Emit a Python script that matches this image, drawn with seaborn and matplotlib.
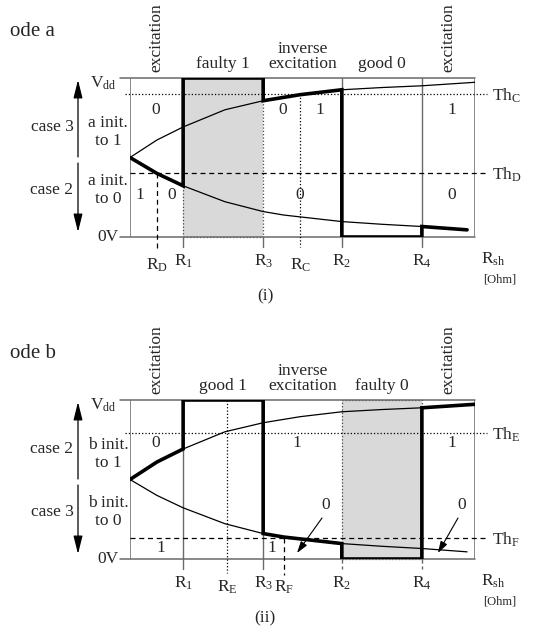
import numpy as np
import pandas as pd
import matplotlib.pyplot as plt
from matplotlib.patches import Rectangle
import seaborn as sns

# shunt resistance positions (arbitrary units, plotted range 0..100)
R_NAMES = ["1", "3", "2", "4"]
R_VALUES = [15.4, 38.6, 61.4, 84.6]
R_END = 100.0

# node voltage (fraction of Vdd) vs R_sh, node initialised to 1 / to 0
UP_X = [0, 7.8, 15.4, 27.5, 38.6, 49.3, 61.4, 73.0, 84.6, 100.0]
UP_V = [0.50, 0.61, 0.692, 0.80, 0.857, 0.895, 0.926, 0.94, 0.951, 0.973]
LO_X = [0, 7.8, 15.4, 27.5, 38.6, 44.6, 61.4, 73.0, 84.6, 97.7]
LO_V = [0.50, 0.40, 0.322, 0.222, 0.16, 0.138, 0.097, 0.08, 0.066, 0.045]

# thresholds and the resistances where the curves cross them
TH_C, TH_D = 0.90, 0.40
R_C, R_D = 49.3, 7.8
TH_E, TH_F = 0.79, 0.132
R_E, R_F = 28.1, 44.6

A_REGIONS = ["excitation", "faulty 1", "inverse\nexcitation", "good 0", "excitation"]
B_REGIONS = ["excitation", "good 1", "inverse\nexcitation", "faulty 0", "excitation"]

A_DIGITS = ["0", "1", "0", "0", "1", "0", "1", "0"]
B_DIGITS = ["0", "1", "1", "1", "1"]

W, H = 538, 639
BOX_L, BOX_R, BOX_T, BOX_H = 130, 475, 78, 159
PX_R = (BOX_R - BOX_L) / R_END
GRAY = "#6a6a6a"


def P(px, py):
    # panel-(i) pixel position -> data coords (same for both panels)
    return ((px - BOX_L) / PX_R, (BOX_T + BOX_H - py) / BOX_H)


def along(xs, vs, x0, x1):
    return [(x, v) for x, v in zip(xs, vs) if x0 <= x <= x1]


def sub(base, s):
    return r"$\mathrm{%s}_{\mathrm{%s}}$" % (base, s)


r1, r3, r2, r4 = R_VALUES
thick_a = (along(LO_X, LO_V, 0, r1) + [(r1, 1), (r3, 1)] + along(UP_X, UP_V, r3, r2)
           + [(r2, 0), (r4, 0)] + along(LO_X, LO_V, r4, R_END))
thick_b = (along(UP_X, UP_V, 0, r1) + [(r1, 1), (r3, 1)] + along(LO_X, LO_V, r3, r2)
           + [(r2, 0), (r4, 0)] + along(UP_X, UP_V, r4, R_END))

panels = [
    dict(top=78, name="ode a", tag="(i)", init="a", cases=("case 3", "case 2"),
         regions=A_REGIONS, shade=(r1, r3), thick=thick_a,
         th=[(TH_C, "C", ":"), (TH_D, "D", "--")],
         marks=[(R_C, "C", ":", TH_C, -0.065), (R_D, "D", "--", TH_D, -0.07)],
         digits=list(zip([(156, 110), (140, 195), (172, 195), (283, 110), (320, 110),
                          (300, 195), (452, 110), (452, 195)], A_DIGITS)),
         tick_ls=["-", "-", "-", "-"], pointers=[]),
    dict(top=400, name="ode b", tag="(ii)", init="b", cases=("case 2", "case 3"),
         regions=B_REGIONS, shade=(r2, r4), thick=thick_b,
         th=[(TH_E, "E", ":"), (TH_F, "F", "--")],
         marks=[(R_E, "E", ":", 1.0, -0.085), (R_F, "F", "--", TH_F, -0.1)],
         digits=list(zip([(156, 121), (297, 121), (452, 121), (161, 226), (272, 226)], B_DIGITS)),
         tick_ls=["-", "-", (0, (3, 2)), (0, (3, 2))],
         pointers=[((326, 183), (322, 196), (297, 231)), ((462, 183), (458, 196), (438, 231))]),
]

sns.set_theme(style="white")
plt.rcParams["font.family"] = ["Liberation Serif", "DejaVu Serif"]
plt.rcParams["mathtext.fontset"] = "custom"
plt.rcParams["mathtext.rm"] = "Liberation Serif"
plt.rcParams["mathtext.it"] = "Liberation Serif:italic"
plt.rcParams["mathtext.bf"] = "Liberation Serif:bold"
FS = 12.5

fig = plt.figure(figsize=(W / 100, H / 100), dpi=100)

for pn in panels:
    ax = fig.add_axes([BOX_L / W, 1 - (pn["top"] + BOX_H) / H,
                       (BOX_R - BOX_L) / W, BOX_H / H])

    # shaded (faulty) region
    s0, s1 = pn["shade"]
    ax.fill_between([s0, s1], 0, 1, color="#d9d9d9", lw=0, zorder=0)
    ax.add_patch(Rectangle((s0, 0), s1 - s0, 1, fill=False, ec="#444444",
                           ls=":", lw=0.9, zorder=1, clip_on=False))

    # box
    xl = P(120, 0)[0]
    ax.plot([xl, R_END], [1, 1], color=GRAY, lw=1.1, clip_on=False, zorder=2)
    ax.plot([xl, R_END], [0, 0], color=GRAY, lw=1.1, clip_on=False, zorder=2)
    ax.plot([0, 0], [0, 1], color=GRAY, lw=1.1, zorder=2)
    ax.plot([R_END, R_END], [0, 1], color=GRAY, lw=1.1, zorder=2)

    # R boundaries and ticks below the box
    for rv, rn, ls in zip(R_VALUES, R_NAMES, pn["tick_ls"]):
        if rv not in pn["shade"]:
            ax.plot([rv, rv], [0, 1], color=GRAY, lw=1.0, zorder=2)
        ax.plot([rv, rv], [0, -0.065], color=GRAY, lw=1.0, ls=ls, clip_on=False)
        ax.text(rv, -0.155, sub("R", rn), fontsize=FS, ha="center", va="center")

    # thresholds
    for tv, tn, ls in pn["th"]:
        ax.plot([-1.5 if ls == ":" else 0, 103.5], [tv, tv], color="black", lw=0.9,
                ls=ls if ls == ":" else (0, (4, 3)), clip_on=False, zorder=3)
        ax.text(P(492, 0)[0], tv - 0.01, sub("Th", tn), fontsize=FS, ha="left", va="center")

    # crossing markers
    for mv, mn, ls, vtop, vbot in pn["marks"]:
        ax.plot([mv, mv], [vtop, vbot], color="black", lw=0.9,
                ls=ls if ls == ":" else (0, (4, 3)), clip_on=False, zorder=3)
        ax.text(mv, -0.175, sub("R", mn), fontsize=FS, ha="center", va="center")

    # voltage curves
    sns.lineplot(x=UP_X, y=UP_V, color="black", lw=0.9, ax=ax, zorder=4)
    sns.lineplot(x=LO_X, y=LO_V, color="black", lw=0.9, ax=ax, zorder=4)
    df = pd.DataFrame(pn["thick"], columns=["r", "v"])
    sns.lineplot(data=df, x="r", y="v", sort=False, estimator=None, color="black",
                 lw=2.6, ax=ax, zorder=5, solid_joinstyle="miter")

    ax.set_xlim(0, R_END)
    ax.set_ylim(0, 1)
    ax.axis("off")

    # region names above the box
    bounds = [0] + R_VALUES + [R_END]
    for i, lab in enumerate(pn["regions"]):
        mid = (bounds[i] + bounds[i + 1]) / 2
        if lab == "excitation":
            ax.text(mid, P(0, 72)[1], lab, fontsize=FS, rotation=90, ha="center", va="bottom")
        else:
            ax.text(mid, P(0, 72)[1], lab, fontsize=FS, ha="center", va="bottom",
                    linespacing=0.95)

    # value digits
    for (px, py), d in pn["digits"]:
        x, v = P(px, py)
        ax.text(x, v, d, fontsize=FS, ha="center", va="center")
    for (tp, ap, tip) in pn["pointers"]:
        ax.text(*P(*tp), "0", fontsize=FS, ha="center", va="center")
        ax.annotate("", xy=P(*tip), xytext=P(*ap), annotation_clip=False,
                    arrowprops=dict(arrowstyle="-|>,head_length=0.7,head_width=0.22",
                                    mutation_scale=10, lw=0.8, color="black",
                                    shrinkA=0, shrinkB=0))

    # left side labels
    ax.text(*P(10, 32), pn["name"], fontsize=15, ha="left", va="center")
    ax.text(*P(265, 296), pn["tag"], fontsize=FS, ha="center", va="center")
    ax.text(*P(52, 127), pn["cases"][0], fontsize=FS, ha="center", va="center")
    ax.text(*P(52, 190), pn["cases"][1], fontsize=FS, ha="center", va="center")
    ax.text(*P(108, 132), f"{pn['init']} init.\nto 1", fontsize=FS, ha="center",
            va="center", linespacing=1.15)
    ax.text(*P(108, 190), f"{pn['init']} init.\nto 0", fontsize=FS, ha="center",
            va="center", linespacing=1.15)
    ax.text(*P(117, 83), sub("V", "dd"), fontsize=FS, ha="right", va="center")
    ax.text(*P(119, 237), "0V", fontsize=FS, ha="right", va="center")
    ax.text(*P(481, 259), sub("R", "sh"), fontsize=FS, ha="left", va="center")
    ax.text(*P(500, 280), "[Ohm]", fontsize=9, ha="center", va="center")

    # case arrows
    for base, tip in [((78, 157), (78, 80)), ((78, 163), (78, 232))]:
        ax.annotate("", xy=P(*tip), xytext=P(*base), annotation_clip=False,
                    arrowprops=dict(arrowstyle="-|>,head_length=1.0,head_width=0.25",
                                    mutation_scale=11, lw=0.9, color="black",
                                    shrinkA=0, shrinkB=0))

fig.savefig("out.png", dpi=100)
